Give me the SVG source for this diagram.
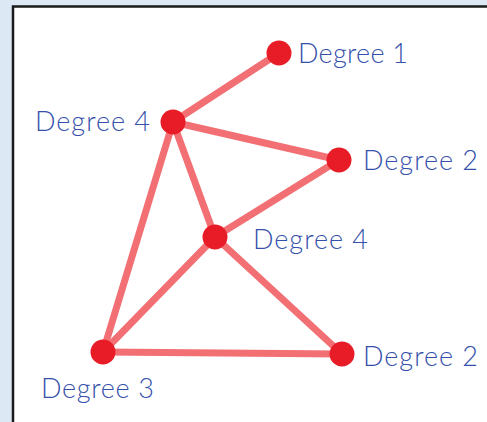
<svg xmlns="http://www.w3.org/2000/svg" width="487" height="422" viewBox="0 0 487 422">
<style>
.edge{stroke:#f27074;stroke-width:7;stroke-linecap:round;fill:none}
.node{fill:#e81c27}
.lbl{font-family:Lato,"Open Sans","DejaVu Sans",sans-serif;font-size:27px;font-weight:300;fill:#3450aa}
</style>
<rect x="0" y="0" width="487" height="422" fill="#dce9f5"/>
<rect x="13" y="6.5" width="490" height="430" fill="#ffffff" stroke="#1a1a1a" stroke-width="2.5"/>
<g id="connectors">
<line class="edge" x1="279" y1="53" x2="173" y2="122"/>
<line class="edge" x1="173" y1="122" x2="339" y2="160"/>
<line class="edge" x1="173" y1="122" x2="215" y2="237"/>
<line class="edge" x1="173" y1="122" x2="103" y2="352"/>
<line class="edge" x1="339" y1="160" x2="215" y2="237"/>
<line class="edge" x1="215" y1="237" x2="103" y2="352"/>
<line class="edge" x1="215" y1="237" x2="342" y2="354"/>
<line class="edge" x1="103" y1="352" x2="342" y2="354"/>
</g>
<g id="n1"><circle class="node" cx="279" cy="53" r="12.5"/><text class="lbl" x="298" y="63" textLength="110">Degree 1</text></g>
<g id="n2"><circle class="node" cx="173" cy="122" r="12.5"/><text class="lbl" x="35" y="131" textLength="115">Degree 4</text></g>
<g id="n3"><circle class="node" cx="339" cy="160" r="12.5"/><text class="lbl" x="363" y="170" textLength="115">Degree 2</text></g>
<g id="n4"><circle class="node" cx="215" cy="237" r="12.5"/><text class="lbl" x="253" y="249" textLength="115">Degree 4</text></g>
<g id="n5"><circle class="node" cx="103" cy="352" r="12.5"/><text class="lbl" x="41" y="398" textLength="113">Degree 3</text></g>
<g id="n6"><circle class="node" cx="342" cy="354" r="12.5"/><text class="lbl" x="363" y="366" textLength="115">Degree 2</text></g>
</svg>
